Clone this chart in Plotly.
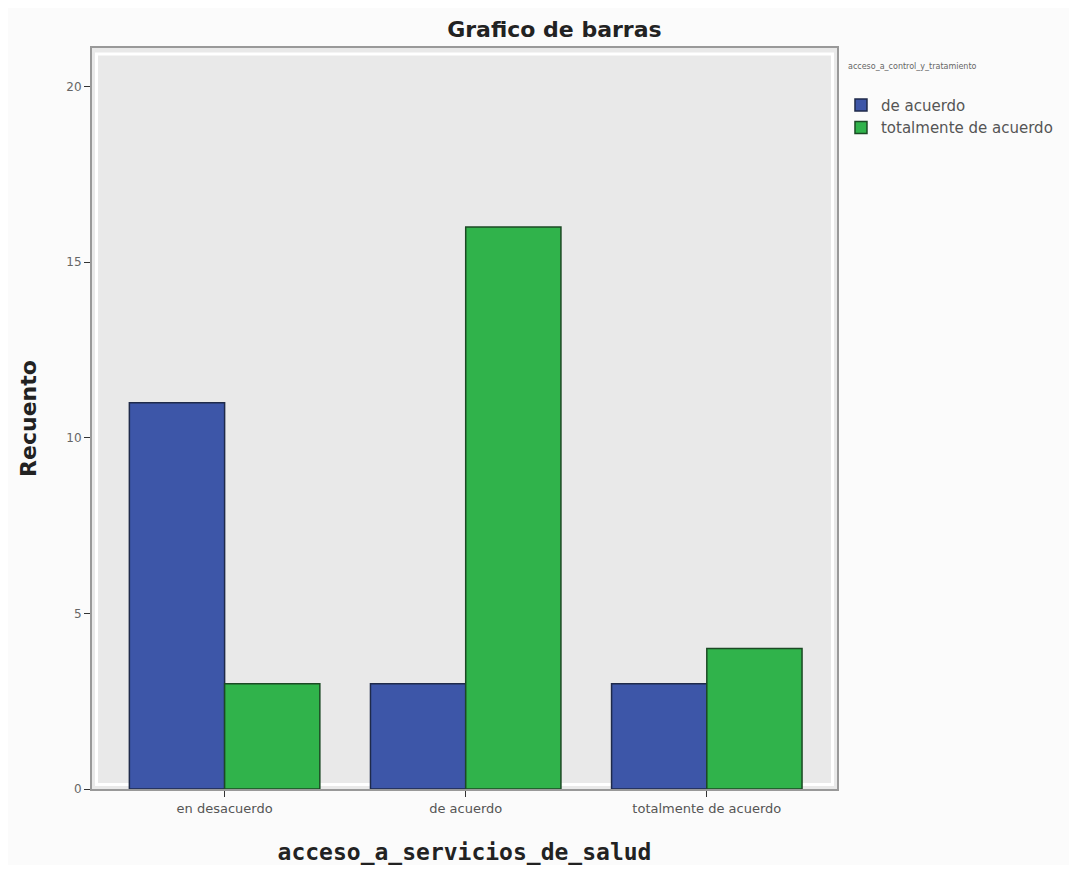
import plotly.graph_objects as go

categories = ["en desacuerdo", "de acuerdo", "totalmente de acuerdo"]
de_acuerdo = [11, 3, 3]
totalmente_de_acuerdo = [3, 16, 4]
y_ticks = [0, 5, 10, 15, 20]
legend_title = "acceso_a_control_y_tratamiento"

fig = go.Figure()
fig.add_trace(go.Bar(
    x=categories, y=de_acuerdo, name="de acuerdo",
    marker=dict(color="#3d56a8", line=dict(color="#1f2a4a", width=1.5)),
))
fig.add_trace(go.Bar(
    x=categories, y=totalmente_de_acuerdo, name="totalmente de acuerdo",
    marker=dict(color="#30b34b", line=dict(color="#1b4a24", width=1.5)),
))

# page body has an 8px margin, so the figure is sized to fit inside it
fig.update_layout(
    width=1061, height=857,
    barmode="group", bargap=0.21, bargroupgap=0,
    paper_bgcolor="#fbfbfb", plot_bgcolor="#e9e9e9",
    margin=dict(l=84, r=231, t=40, b=76),
    font=dict(family="DejaVu Sans", color="#333"),
    title=dict(text="<b>Grafico de barras</b>", x=0.515, xanchor="center",
               y=0.975, yanchor="middle",
               font=dict(size=22, color="#222", family="DejaVu Sans")),
    legend=dict(
        x=1.004, y=0.945, xanchor="left", yanchor="top",
        font=dict(size=15, color="#555"), bgcolor="rgba(0,0,0,0)",
        itemwidth=30, tracegroupgap=4,
    ),
    xaxis=dict(
        range=[-0.55, 2.54], showgrid=False, ticks="outside", ticklen=6,
        tickcolor="#333", tickfont=dict(size=13, color="#555"),
        showline=True, linecolor="#999", linewidth=2, mirror=True,
        automargin=False,
        title=dict(text="<b>acceso_a_servicios_de_salud</b>", standoff=40,
                   font=dict(size=23, color="#222", family="DejaVu Sans Mono")),
    ),
    yaxis=dict(
        range=[0, 21.1], tickvals=y_ticks, showgrid=False, zeroline=False,
        ticks="outside", ticklen=6, tickcolor="#333",
        tickfont=dict(size=12, color="#666"),
        showline=True, linecolor="#999", linewidth=2, mirror=True,
        automargin=False,
        title=dict(text="<b>Recuento</b>", standoff=24,
                   font=dict(size=22, color="#222", family="DejaVu Sans")),
    ),
)

fig.add_annotation(text=legend_title, xref="paper", yref="paper", x=1.012, y=0.975,
                   xanchor="left", yanchor="middle", showarrow=False,
                   font=dict(size=8, color="#666"))

# inner white frame just inside the plot border
fig.add_shape(type="rect", xref="paper", yref="paper", x0=0.006, x1=0.994,
              y0=0.006, y1=0.992, line=dict(color="white", width=3), layer="below")

fig.write_html("out.html")
